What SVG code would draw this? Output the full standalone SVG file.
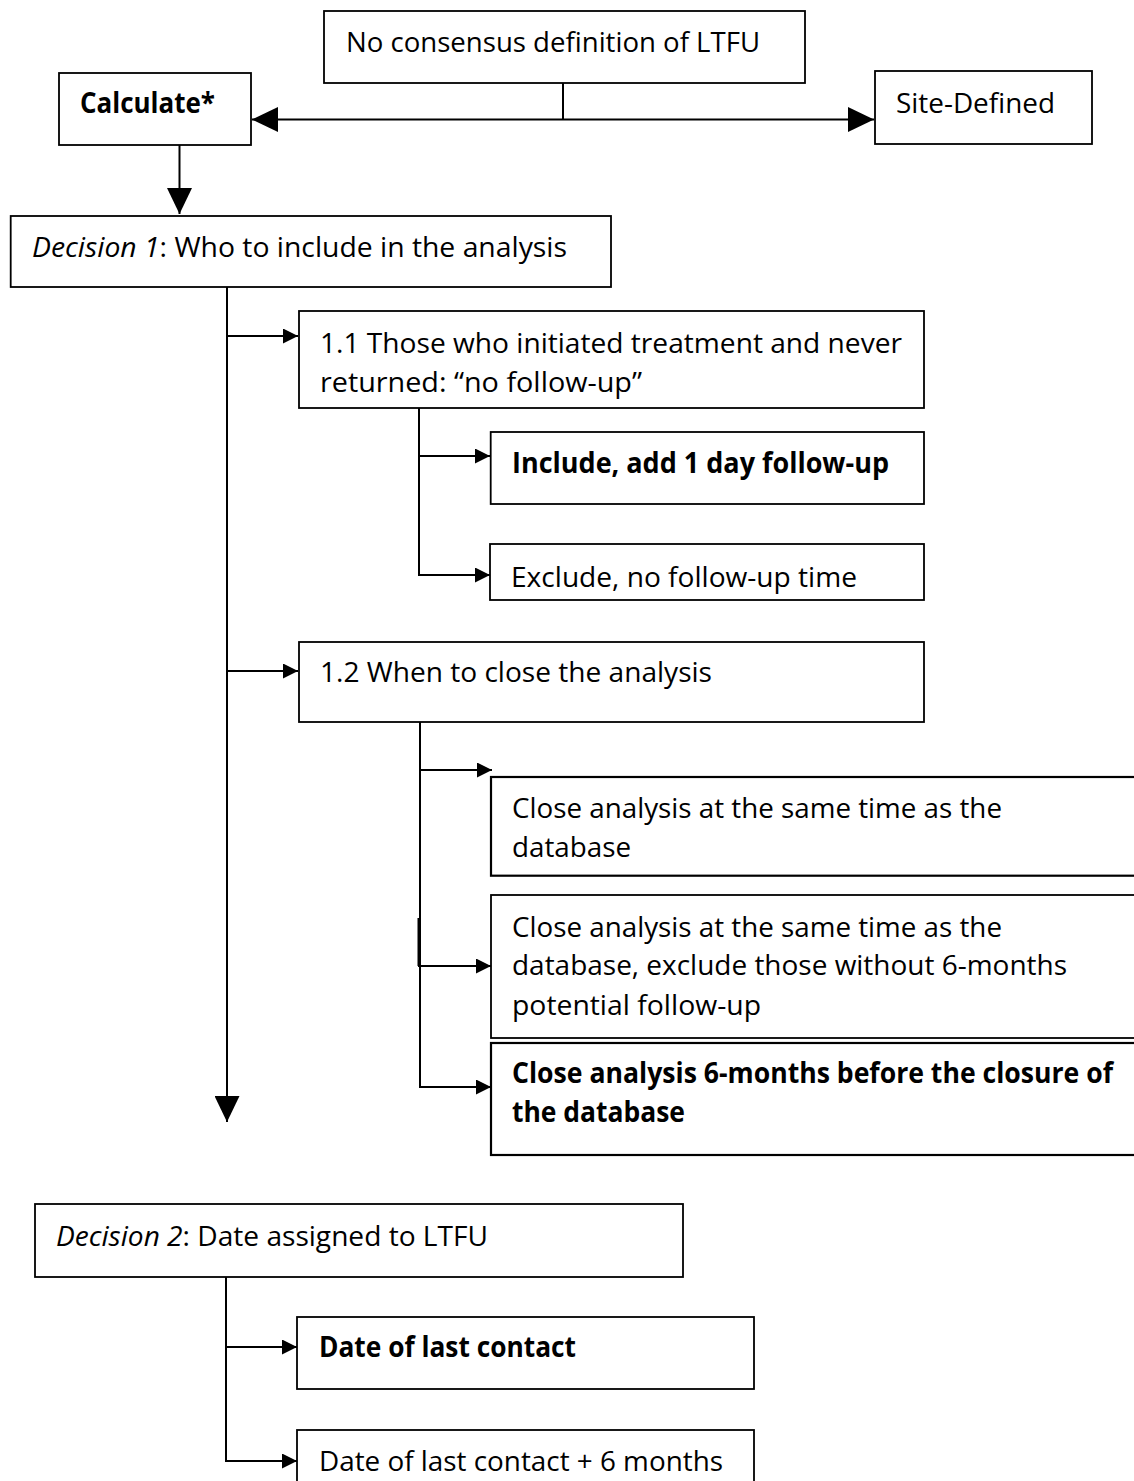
<svg xmlns="http://www.w3.org/2000/svg" width="1134" height="1481" viewBox="0 0 1134 1481">
  <style>
    .box { fill: #ffffff; stroke: #000000; stroke-width: 1.8; }
    .lbl { font-family: "Open Sans", "Liberation Sans", sans-serif; font-size: 28px; fill: #000000; }
    .b { font-weight: bold; }
    .i { font-style: italic; }
    .wire { fill: none; stroke: #000000; stroke-width: 2; }
  </style>
  <defs>
    <marker id="bigHead" markerUnits="userSpaceOnUse" markerWidth="26" markerHeight="25" viewBox="0 0 26 25" refX="26" refY="12.5" orient="auto">
      <path d="M0,0 L26,12.5 L0,25 Z" fill="#000000"/>
    </marker>
    <marker id="smallHead" markerUnits="userSpaceOnUse" markerWidth="15" markerHeight="15" viewBox="0 0 15 15" refX="15" refY="7.5" orient="auto">
      <path d="M0,0 L15,7.5 L0,15 Z" fill="#000000"/>
    </marker>
  </defs>
  <rect width="1134" height="1481" fill="#ffffff"/>

  <!-- connectors -->
  <g id="connectors">
    <path class="wire" d="M563,83 V119.5"/>
    <path class="wire" d="M563,119.5 H252" marker-end="url(#bigHead)"/>
    <path class="wire" d="M563,119.5 H874" marker-end="url(#bigHead)"/>
    <path class="wire" d="M179.5,145 V214" marker-end="url(#bigHead)"/>
    <path class="wire" d="M227,287 V1122" marker-end="url(#bigHead)"/>
    <path class="wire" d="M227,336 H298" marker-end="url(#smallHead)"/>
    <path class="wire" d="M227,671 H298" marker-end="url(#smallHead)"/>
    <path class="wire" d="M419,408 V576"/>
    <path class="wire" d="M418,456 H490" marker-end="url(#smallHead)"/>
    <path class="wire" d="M418,575 H490" marker-end="url(#smallHead)"/>
    <path class="wire" d="M420,722 V1088"/>
    <path class="wire" d="M418.5,918 V966"/>
    <path class="wire" d="M419,770 H492" marker-end="url(#smallHead)"/>
    <path class="wire" d="M418,966 H491" marker-end="url(#smallHead)"/>
    <path class="wire" d="M419,1087 H491" marker-end="url(#smallHead)"/>
    <path class="wire" d="M226,1274 V1462"/>
    <path class="wire" d="M225,1347 H297" marker-end="url(#smallHead)"/>
    <path class="wire" d="M225,1461 H297" marker-end="url(#smallHead)"/>
  </g>

  <g id="node-root">
    <rect class="box" x="324" y="11" width="481" height="72"/>
    <text class="lbl" x="346" y="52" textLength="414" lengthAdjust="spacingAndGlyphs">No consensus definition of LTFU</text>
  </g>

  <g id="node-calculate">
    <rect class="box" x="59" y="73" width="192" height="72"/>
    <text class="lbl b" x="80" y="113" textLength="135" lengthAdjust="spacingAndGlyphs">Calculate*</text>
  </g>

  <g id="node-site">
    <rect class="box" x="875" y="71" width="217" height="73"/>
    <text class="lbl" x="896" y="113" textLength="159" lengthAdjust="spacingAndGlyphs">Site-Defined</text>
  </g>

  <g id="node-decision1">
    <rect class="box" x="10.7" y="216" width="600.3" height="71"/>
    <text class="lbl" x="32" y="257" textLength="535" lengthAdjust="spacingAndGlyphs"><tspan class="i">Decision 1</tspan>: Who to include in the analysis</text>
  </g>

  <g id="node-1-1">
    <rect class="box" x="299" y="311" width="625" height="97"/>
    <text class="lbl" x="320" y="353" textLength="582" lengthAdjust="spacingAndGlyphs">1.1 Those who initiated treatment and never</text>
    <text class="lbl" x="320" y="392" textLength="322" lengthAdjust="spacingAndGlyphs">returned: “no follow-up”</text>
  </g>

  <g id="node-include">
    <rect class="box" x="490.7" y="432" width="433.3" height="72"/>
    <text class="lbl b" x="512" y="473" textLength="377" lengthAdjust="spacingAndGlyphs">Include, add 1 day follow-up</text>
  </g>

  <g id="node-exclude">
    <rect class="box" x="490" y="544" width="434" height="56"/>
    <text class="lbl" x="511" y="587" textLength="346" lengthAdjust="spacingAndGlyphs">Exclude, no follow-up time</text>
  </g>

  <g id="node-1-2">
    <rect class="box" x="299" y="642" width="625" height="80"/>
    <text class="lbl" x="320" y="682" textLength="392" lengthAdjust="spacingAndGlyphs">1.2 When to close the analysis</text>
  </g>

  <g id="node-close-same">
    <rect class="box" x="491" y="777" width="660" height="98.7" style="stroke-width:2.2"/>
    <text class="lbl" x="512" y="818" textLength="490" lengthAdjust="spacingAndGlyphs">Close analysis at the same time as the</text>
    <text class="lbl" x="512" y="857" textLength="119" lengthAdjust="spacingAndGlyphs">database</text>
  </g>

  <g id="node-close-exclude">
    <rect class="box" x="491" y="895" width="660" height="143"/>
    <text class="lbl" x="512" y="937" textLength="490" lengthAdjust="spacingAndGlyphs">Close analysis at the same time as the</text>
    <text class="lbl" x="512" y="975" textLength="555" lengthAdjust="spacingAndGlyphs">database, exclude those without 6-months</text>
    <text class="lbl" x="512" y="1015" textLength="249" lengthAdjust="spacingAndGlyphs">potential follow-up</text>
  </g>

  <g id="node-close-before">
    <rect class="box" x="491" y="1043" width="660" height="112" style="stroke-width:2.2"/>
    <text class="lbl b" x="512" y="1083" textLength="601" lengthAdjust="spacingAndGlyphs">Close analysis 6-months before the closure of</text>
    <text class="lbl b" x="512" y="1122" textLength="173" lengthAdjust="spacingAndGlyphs">the database</text>
  </g>

  <g id="node-decision2">
    <rect class="box" x="35" y="1204" width="648" height="73"/>
    <text class="lbl" x="56" y="1246" textLength="432" lengthAdjust="spacingAndGlyphs"><tspan class="i">Decision 2</tspan>: Date assigned to LTFU</text>
  </g>

  <g id="node-last-contact">
    <rect class="box" x="297" y="1317" width="457" height="72"/>
    <text class="lbl b" x="319" y="1357" textLength="257" lengthAdjust="spacingAndGlyphs">Date of last contact</text>
  </g>

  <g id="node-last-contact-6m">
    <rect class="box" x="297" y="1430" width="457" height="80"/>
    <text class="lbl" x="319" y="1471" textLength="404" lengthAdjust="spacingAndGlyphs">Date of last contact + 6 months</text>
  </g>
</svg>
